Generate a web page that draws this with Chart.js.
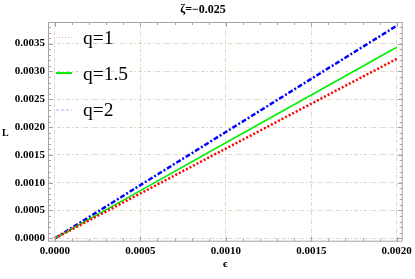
<!DOCTYPE html>
<html>
<head>
<meta charset="utf-8">
<script src="https://cdn.jsdelivr.net/npm/chart.js@4"></script>
<style>
  html, body { margin: 0; padding: 0; background: #fff; }
  #wrap { width: 415px; height: 279px; }
</style>
</head>
<body>
<div id="wrap"><canvas id="chart" width="415" height="279"></canvas></div>
<script>
// epsilon values along x
const epsValues = [0, 0.0005, 0.001, 0.0015, 0.002];
// L for each q
const lQ1 = [0, 0.000806, 0.001613, 0.002420, 0.003226];
const lQ15 = [0, 0.000858, 0.001717, 0.002576, 0.003434];
const lQ2 = [0, 0.000956, 0.001911, 0.002867, 0.003822];
const seriesLabels = ['q=1', 'q=1.5', 'q=2'];
const xTicks = [0, 0.0005, 0.001, 0.0015, 0.002];
const yTicks = [0, 0.0005, 0.001, 0.0015, 0.002, 0.0025, 0.003, 0.0035];

const toPoints = (ys) => epsValues.map((x, i) => ({ x: x, y: ys[i] }));

const serif = "'Liberation Serif', 'DejaVu Serif', serif";
const gridColor = 'rgba(205,180,150,0.55)';
const frameColor = '#a4a4a4';

// legend sample styles (faint in the original)
const legendStyles = [
    { color: 'rgba(255,120,120,0.6)', width: 1, dash: [1, 2] },
    { color: '#00f000', width: 2, dash: [] },
    { color: 'rgba(120,120,255,0.6)', width: 1, dash: [3, 2] }
];

// frame on all four sides with inward major/minor ticks, plus legend and y label
const framePlugin = {
    id: 'frame',
    afterDatasetsDraw(chart) {
        const { ctx, chartArea: a, scales } = chart;
        ctx.save();
        ctx.strokeStyle = frameColor;
        ctx.lineWidth = 1;
        ctx.setLineDash([]);
        ctx.strokeRect(a.left + 0.5, a.top + 0.5, a.right - a.left - 1, a.bottom - a.top - 1);
        ctx.beginPath();
        for (let v = 0; v <= 0.00201; v += 0.0001) {
            const px = Math.round(scales.x.getPixelForValue(v)) + 0.5;
            const major = Math.abs(v / 0.0005 - Math.round(v / 0.0005)) < 1e-6;
            const len = major ? 5 : 3;
            ctx.moveTo(px, a.bottom); ctx.lineTo(px, a.bottom - len);
            ctx.moveTo(px, a.top); ctx.lineTo(px, a.top + len);
        }
        for (let v = 0; v <= 0.00385; v += 0.0001) {
            const py = Math.round(scales.y.getPixelForValue(v)) + 0.5;
            const major = Math.abs(v / 0.0005 - Math.round(v / 0.0005)) < 1e-6;
            const len = major ? 5 : 3;
            ctx.moveTo(a.left, py); ctx.lineTo(a.left + len, py);
            ctx.moveTo(a.right, py); ctx.lineTo(a.right - len, py);
        }
        ctx.stroke();

        // legend
        const rowY = [37.5, 73, 110];
        const baseY = [44, 79.5, 116];
        seriesLabels.forEach((lab, i) => {
            const st = legendStyles[i];
            ctx.beginPath();
            ctx.strokeStyle = st.color;
            ctx.lineWidth = st.width;
            ctx.setLineDash(st.dash);
            ctx.moveTo(a.left + 8, rowY[i]);
            ctx.lineTo(a.left + 24, rowY[i]);
            ctx.stroke();
            ctx.fillStyle = '#000';
            ctx.font = '19.5px ' + serif;
            ctx.textAlign = 'left';
            ctx.textBaseline = 'alphabetic';
            ctx.fillText(lab, a.left + 35, baseY[i]);
        });

        // y label
        ctx.setLineDash([]);
        ctx.fillStyle = '#000';
        ctx.font = 'bold 10px ' + serif;
        ctx.textAlign = 'left';
        ctx.textBaseline = 'middle';
        ctx.fillText('L', 2, 133);
        ctx.restore();
    }
};

new Chart(document.getElementById('chart'), {
    type: 'line',
    data: {
        datasets: [
            {
                label: seriesLabels[0],
                data: toPoints(lQ1),
                borderColor: '#ff0000',
                borderWidth: 2.5,
                borderDash: [2, 2],
                pointRadius: 0,
                fill: false
            },
            {
                label: seriesLabels[1],
                data: toPoints(lQ15),
                borderColor: '#00f000',
                borderWidth: 1.6,
                pointRadius: 0,
                fill: false
            },
            {
                label: seriesLabels[2],
                data: toPoints(lQ2),
                borderColor: '#0000ff',
                borderWidth: 2.5,
                borderDash: [5, 2, 2, 2],
                pointRadius: 0,
                fill: false
            }
        ]
    },
    options: {
        responsive: false,
        animation: false,
        devicePixelRatio: 1,
        layout: { padding: { top: 0, right: 9, bottom: 0, left: 0 } },
        scales: {
            x: {
                type: 'linear',
                min: -0.0000406,
                max: 0.0020348,
                afterBuildTicks: (s) => { s.ticks = xTicks.map(v => ({ value: v })); },
                afterFit: (s) => { s.height = 37.3; },
                ticks: {
                    color: '#000',
                    font: { family: serif, size: 11, weight: 'bold' },
                    padding: 3,
                    maxRotation: 0,
                    callback: (v) => v.toFixed(4)
                },
                grid: {
                    color: gridColor,
                    drawTicks: false,
                    lineWidth: 1
                },
                border: { display: false, dash: [4, 2, 1, 2] },
                title: {
                    display: true,
                    text: 'ϵ',
                    color: '#000',
                    font: { family: serif, size: 11, weight: 'bold' },
                    padding: { top: 0, bottom: 8 }
                }
            },
            y: {
                type: 'linear',
                min: -0.000061,
                max: 0.003889,
                afterBuildTicks: (s) => { s.ticks = yTicks.map(v => ({ value: v })); },
                afterFit: (s) => { s.width = 48; },
                ticks: {
                    color: '#000',
                    font: { family: serif, size: 11, weight: 'bold' },
                    padding: 3,
                    callback: (v) => v.toFixed(4)
                },
                grid: {
                    color: gridColor,
                    drawTicks: false,
                    lineWidth: 1
                },
                border: { display: false, dash: [4, 2, 1, 2] }
            }
        },
        plugins: {
            title: {
                display: true,
                text: 'ζ=−0.025',
                color: '#000',
                font: { family: serif, size: 12, weight: 'bold' },
                padding: { top: 3, bottom: 4.6 }
            },
            legend: { display: false },
            tooltip: { enabled: false }
        }
    },
    plugins: [framePlugin]
});
</script>
</body>
</html>
